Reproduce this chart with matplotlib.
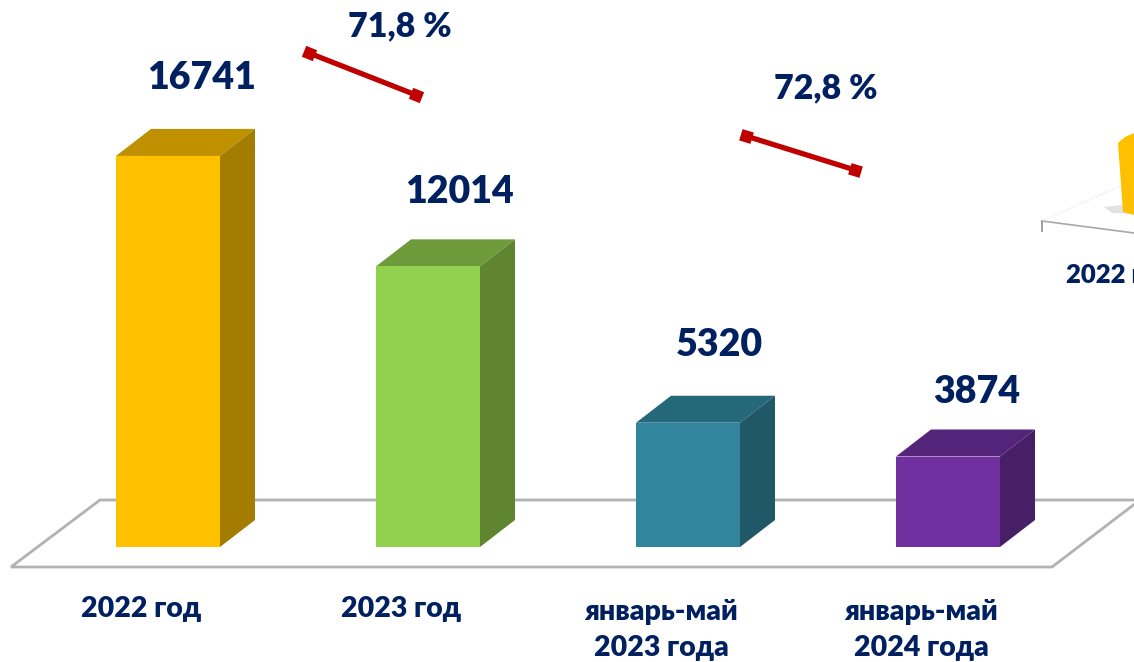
import matplotlib
matplotlib.use('Agg')
import matplotlib.pyplot as plt
from matplotlib.patches import Polygon

plt.rcParams['font.family'] = ['Lato', 'Noto Sans', 'DejaVu Sans']

# Данные
categories = ['2022 год', '2023 год', 'январь-май\n2023 года', 'январь-май\n2024 года']
values = [16741, 12014, 5320, 3874]
changes = ['71,8 %', '72,8 %']

front_colors = ['#FFC000', '#92D050', '#31859C', '#7030A0']
top_colors = ['#BF9000', '#6F9A3C', '#25687A', '#54247A']
side_colors = ['#A47D00', '#5F8530', '#205867', '#471F66']
label_dx = [0.13, 0.12, 0.12, 0.11]
label_offsets = [1450, 1280, 1450, 860]
navy = '#002060'
red = '#C00000'

W, H = 1134, 662
fig = plt.figure(figsize=(W / 100, H / 100), dpi=100, facecolor='white')

# Слой в пикселях: пол, стрелки, обрезанный фрагмент справа
back = fig.add_axes([0, 0, 1, 1])
back.set_xlim(0, W)
back.set_ylim(H, 0)
back.axis('off')

back.plot([1136, 100, 11, 1052, 1136], [500, 500, 567, 567, 503],
          color='#B2B2B2', lw=2.0, solid_joinstyle='miter')

# Фрагмент соседней диаграммы
back.add_patch(Polygon([(1104, 207), (1122, 205), (1134, 208), (1134, 214), (1112, 213)],
                       fc='#E2E2E2', ec='none'))
back.add_patch(Polygon([(1118, 143), (1125, 137), (1134, 133), (1134, 215), (1123, 212)],
                       fc='#FFC000', ec='none'))
back.plot([1042, 1134], [221, 233], color='#A8A8A8', lw=1.2)
back.plot([1042, 1042], [221, 231], color='#8C8C8C', lw=1.2)
back.plot([1042, 1118], [221, 187], color='#E4DCDC', lw=0.8, ls=':')
back.text(1066, 275, '2022 г', color=navy, fontsize=18.5, fontweight='heavy',
          ha='left', va='center')

# Линии снижения
arrows = [((309, 53), (416, 95), 22), ((746, 136), (855, 170), 17)]
for (x0, y0), (x1, y1), ang in arrows:
    back.plot([x0, x1], [y0, y1], color=red, lw=3.8, solid_capstyle='butt')
    back.plot([x0, x1], [y0, y1], ls='none', color=red,
              marker=(4, 0, 45 - ang), ms=12, mew=0)
back.text(400, 26, changes[0], color=navy, fontsize=24.5, fontweight='heavy',
          ha='center', va='center')
back.text(826, 88, changes[1], color=navy, fontsize=24.5, fontweight='heavy',
          ha='center', va='center')

# Столбцы в единицах данных
ax = fig.add_axes([0, 0, 1, 1], facecolor='none')
ax.set_xlim(-168 / 260, (W - 168) / 260)
ax.set_ylim(-115 / 0.02336, 547 / 0.02336)
ax.axis('off')

bar_w = 0.4
dx = 35 / 260
dy = 27 / 0.02336
xs = range(len(values))
ax.bar(xs, values, width=bar_w, color=front_colors, linewidth=0, zorder=3)

for x, v, top, side, off, ldx in zip(xs, values, top_colors, side_colors, label_offsets, label_dx):
    r = x + bar_w / 2
    l = x - bar_w / 2
    ax.add_patch(Polygon([(l, v), (r, v), (r + dx, v + dy), (l + dx, v + dy)],
                         fc=top, ec='none', zorder=2))
    ax.add_patch(Polygon([(r, 0), (r + dx, dy), (r + dx, v + dy), (r, v)],
                         fc=side, ec='none', zorder=2))
    ax.text(x + ldx, v + dy + off, str(v), color=navy, fontsize=27, fontweight='heavy',
            ha='center', va='bottom', zorder=4)

# Подписи категорий
for x, name in zip(xs, categories):
    if '\n' in name:
        ax.text(x - 0.104, -3550, name, color=navy, fontsize=20.5, fontweight='heavy',
                ha='center', va='center', linespacing=1.5)
    else:
        ax.text(x - 0.102, -2650, name, color=navy, fontsize=20.5, fontweight='heavy',
                ha='center', va='center')

fig.savefig('out.png', dpi=100)
